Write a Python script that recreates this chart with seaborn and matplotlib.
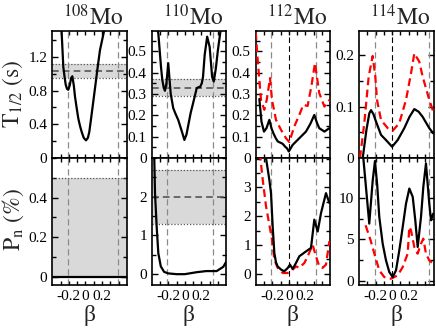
import numpy as np
import pandas as pd
import seaborn as sns
from matplotlib import pyplot as plt
from matplotlib.ticker import FixedLocator, MultipleLocator, FuncFormatter

# nuclei shown in the four columns
nuclei = ["108", "110", "112", "114"]

# half-lives T1/2 (s) vs beta, black = full calc, red dashed = second calc
beta_t108 = [-0.29, -0.267, -0.25, -0.238, -0.222, -0.207, -0.19, -0.172, -0.158, -0.14, -0.126, -0.105, -0.086,
             -0.065, -0.045, -0.02, 0.007, 0.03, 0.047, 0.07, 0.095, 0.12, 0.143, 0.176, 0.224, 0.235]
t108 = [1.55, 1.08, 0.95, 0.87, 0.82, 0.81, 0.86, 0.95, 0.97, 0.86, 0.73, 0.59, 0.47,
        0.38, 0.31, 0.24, 0.21, 0.24, 0.31, 0.48, 0.67, 0.86, 1.04, 1.28, 1.5, 1.6]

beta_t110 = [-0.345, -0.32, -0.288, -0.272, -0.255, -0.24, -0.222, -0.2, -0.185, -0.17, -0.14, -0.11, -0.08,
             -0.04, -0.005, 0.02, 0.043, 0.07, 0.10, 0.144, 0.165, 0.183, 0.205, 0.22, 0.24, 0.27, 0.30, 0.33,
             0.35, 0.375, 0.40, 0.44]
t110 = [0.62, 0.584, 0.428, 0.366, 0.33, 0.315, 0.35, 0.444, 0.37, 0.30, 0.234, 0.205, 0.179,
        0.13, 0.085, 0.11, 0.156, 0.21, 0.257, 0.327, 0.332, 0.332, 0.35, 0.38, 0.483, 0.568, 0.52, 0.38,
        0.358, 0.42, 0.506, 0.62]

beta_t112 = [-0.356, -0.33, -0.30, -0.27, -0.235, -0.21, -0.187, -0.16, -0.134, -0.074, -0.046, -0.02, 0.0,
             0.047, 0.127, 0.207, 0.26, 0.308, 0.34, 0.368, 0.43, 0.49]
t112 = [0.276, 0.17, 0.124, 0.14, 0.179, 0.14, 0.117, 0.095, 0.078, 0.067, 0.054, 0.045, 0.031,
        0.062, 0.093, 0.124, 0.16, 0.202, 0.165, 0.14, 0.124, 0.14]
beta_t112r = [-0.4, -0.376, -0.336, -0.296, -0.267, -0.227, -0.203, -0.155, -0.094, -0.034, 0.006, 0.066,
              0.127, 0.175, 0.227, 0.27, 0.316, 0.368, 0.43, 0.49]
t112r = [0.589, 0.46, 0.272, 0.226, 0.272, 0.374, 0.272, 0.179, 0.132, 0.093, 0.075, 0.148,
         0.202, 0.249, 0.244, 0.33, 0.444, 0.304, 0.241, 0.272]

beta_t114 = [-0.355, -0.31, -0.275, -0.255, -0.225, -0.195, -0.134, -0.074, 0.0, 0.067, 0.147, 0.21, 0.268,
             0.32, 0.369, 0.449, 0.497]
t114 = [0.0, 0.055, 0.087, 0.093, 0.085, 0.071, 0.045, 0.035, 0.022, 0.035, 0.058, 0.08, 0.095,
        0.09, 0.080, 0.058, 0.048]
beta_t114r = [-0.388, -0.336, -0.283, -0.235, -0.203, -0.183, -0.134, -0.053, 0.007, 0.087, 0.168, 0.228,
              0.268, 0.328, 0.369, 0.449, 0.497]
t114r = [0.0, 0.068, 0.158, 0.198, 0.158, 0.113, 0.074, 0.058, 0.053, 0.068, 0.113, 0.164,
         0.203, 0.187, 0.158, 0.113, 0.09]

# neutron emission probability Pn (%) vs beta
beta_p108 = [-0.4, 0.5]
p108 = [0.0, 0.0]

beta_p110 = [-0.37, -0.36, -0.34, -0.32, -0.29, -0.25, -0.2, -0.1, 0.0, 0.14, 0.26, 0.385, 0.465, 0.5]
p110 = [3.1, 2.09, 1.23, 0.54, 0.2, 0.06, 0.02, 0.0, 0.0, 0.05, 0.08, 0.08, 0.19, 0.32]

beta_p112 = [-0.28, -0.235, -0.215, -0.195, -0.175, -0.155, -0.135, -0.094, -0.055, -0.014, 0.014, 0.047,
             0.087, 0.127, 0.208, 0.268, 0.308, 0.349, 0.389, 0.449, 0.49]
p112 = [4.1, 3.26, 2.8, 1.65, 0.73, 0.4, 0.26, 0.15, 0.09, 0.2, 0.32, 0.17,
        0.38, 0.61, 0.78, 0.9, 1.88, 1.47, 2.11, 2.8, 2.46]
beta_p112r = [-0.35, -0.315, -0.275, -0.235, -0.203, -0.175, -0.135, -0.074, -0.014, 0.026, 0.087, 0.127,
              0.188, 0.228, 0.288, 0.328, 0.368, 0.409, 0.449, 0.49]
p112r = [4.2, 3.26, 2.34, 1.7, 1.19, 0.5, 0.21, 0.03, 0.03, 0.09, 0.26, 0.21,
         0.38, 0.61, 1.01, 0.61, 0.26, 0.21, 0.32, 1.13]

beta_p114 = [-0.35, -0.276, -0.235, -0.207, -0.18, -0.155, -0.114, -0.074, -0.034, 0.007, 0.047, 0.087,
             0.128, 0.168, 0.208, 0.249, 0.28, 0.309, 0.349, 0.377, 0.409, 0.449, 0.47, 0.497]
p114 = [15.0, 6.9, 12.0, 14.4, 11.5, 7.7, 4.5, 2.5, 1.1, 0.5, 1.3, 3.7,
        6.5, 9.3, 11.1, 10.1, 7.3, 4.1, 7.7, 11.3, 14.1, 9.3, 7.3, 8.1]
beta_p114r = [-0.32, -0.26, -0.203, -0.155, -0.095, -0.014, 0.067, 0.128, 0.188, 0.208, 0.228, 0.268,
              0.308, 0.349, 0.377, 0.409, 0.449, 0.497]
p114r = [6.7, 4.9, 2.9, 1.3, 0.5, 0.3, 0.7, 1.7, 3.3, 6.5, 6.1, 4.1,
         3.3, 4.5, 5.1, 3.3, 2.5, 2.1]

# experimental values (centre, low, high); None = no data
t_exp = [(1.03, 0.95, 1.11), (0.33, 0.29, 0.37), None, None]
p_exp = [(None, 0.0, 0.5), (2.0, 1.3, 2.7), None, None]

# equilibrium deformations (oblate, prolate)
beta_eq = [(-0.21, 0.39), (-0.21, 0.335), (-0.215, 0.33), (-0.207, 0.45)]
show_zero = [False, False, True, True]

t_ylim = [(0, 1.51), (0, 0.596), (0, 0.596), (0, 0.247)]
t_major = [[0, 0.4, 0.8, 1.2], [0, 0.1, 0.2, 0.3, 0.4, 0.5], [0, 0.1, 0.2, 0.3, 0.4, 0.5], [0, 0.1, 0.2]]
t_minor = [0.2, 0.05, 0.05, 0.05]
p_ylim = [(-0.045, 0.6), (-0.29, 3.0), (-0.4, 4.02), (-0.5, 14.76)]
p_major = [[0, 0.2, 0.4], [0, 1, 2], [0, 1, 2, 3], [0, 5, 10]]
p_minor = [0.1, 0.5, 0.5, 2.5]

t_black = [(beta_t108, t108), (beta_t110, t110), (beta_t112, t112), (beta_t114, t114)]
t_red = [None, None, (beta_t112r, t112r), (beta_t114r, t114r)]
p_black = [(beta_p108, p108), (beta_p110, p110), (beta_p112, p112), (beta_p114, p114)]
p_red = [None, None, (beta_p112r, p112r), (beta_p114r, p114r)]

sns.set_theme(style="ticks")
plt.rcParams["font.family"] = ["Liberation Serif", "DejaVu Serif"]
plt.rcParams["mathtext.fontset"] = "stix"
plt.rcParams["axes.unicode_minus"] = False

W, H = 436, 328
fig = plt.figure(figsize=(W / 100, H / 100), dpi=100)
col_left = [52.3, 151.7, 255.7, 359.0]
col_w = 74.5
row_top = [30.7, 158.0]
row_h = 127.4

fmt = FuncFormatter(lambda v, _: f"{v:g}")
band_col = "#d9d9d9"
edge_col = "#555555"
vline_col = "#8a8a8a"


def style_axis(ax, ylim, major, minor, xlabels):
    ax.set_xlim(-0.4, 0.5)
    ax.set_ylim(*ylim)
    ax.xaxis.set_major_locator(FixedLocator([-0.2, 0.0, 0.2]))
    ax.xaxis.set_minor_locator(FixedLocator([-0.3, -0.1, 0.1, 0.3, 0.4]))
    ax.yaxis.set_major_locator(FixedLocator(major))
    ax.yaxis.set_minor_locator(MultipleLocator(minor))
    ax.xaxis.set_major_formatter(fmt)
    ax.yaxis.set_major_formatter(fmt)
    ax.tick_params(which="both", direction="in", top=True, right=True, color="black", width=1.0,
                   labelsize=11, pad=3.5, labelcolor="black")
    ax.tick_params(axis="x", which="both", length=3.0)
    ax.tick_params(axis="y", which="major", length=4.5)
    ax.tick_params(axis="y", which="minor", length=3.0)
    if not xlabels:
        ax.tick_params(axis="x", labelbottom=False)
    for sp in ax.spines.values():
        sp.set_color("black")
        sp.set_linewidth(1.2)
    ax.set_xlabel("")
    ax.set_ylabel("")
    ax.grid(False)


def draw_band(ax, exp):
    if exp is None:
        return
    mid, lo, hi = exp
    ax.axhspan(lo, hi, color=band_col, lw=0, zorder=0)
    ax.axhline(hi, color=edge_col, lw=0.9, ls=(0, (1, 1.5)), zorder=1)
    if lo > 0:
        ax.axhline(lo, color=edge_col, lw=0.9, ls=(0, (1, 1.5)), zorder=1)
    if mid is not None:
        ax.axhline(mid, color=edge_col, lw=1.2, ls=(0, (4, 2.5)), zorder=1)


for i in range(4):
    for r in range(2):
        bottom = (H - row_top[r] - row_h) / H
        ax = fig.add_axes([col_left[i] / W, bottom, col_w / W, row_h / H])
        if r == 0:
            exp, black, red = t_exp[i], t_black[i], t_red[i]
        else:
            exp, black, red = p_exp[i], p_black[i], p_red[i]
        draw_band(ax, exp)
        for b in beta_eq[i]:
            ax.axvline(b, color=vline_col, lw=0.9, ls=(0, (5, 3)), zorder=2)
        if show_zero[i]:
            ax.axvline(0.0, color="black", lw=0.8, ls=(0, (5, 3)), zorder=2)
        if red is not None:
            sns.lineplot(x=red[0], y=red[1], ax=ax, color="red", lw=1.6, linestyle=(0, (3.5, 2)),
                         zorder=3, estimator=None)
        sns.lineplot(x=black[0], y=black[1], ax=ax, color="black", lw=1.6, zorder=4, estimator=None)
        if r == 0:
            style_axis(ax, t_ylim[i], t_major[i], t_minor[i], False)
            ax.set_title(r"$^{" + nuclei[i] + r"}\mathrm{Mo}$", fontsize=17, x=0.55, pad=4)
        else:
            style_axis(ax, p_ylim[i], p_major[i], p_minor[i], True)
            ax.set_xlabel("β", fontsize=17, labelpad=1)

fig.text(13 / W, 1 - 94 / H, r"$\mathrm{T_{1/2}\ (s)}$", rotation=90, fontsize=17, ha="center", va="center")
fig.text(13 / W, 1 - 220 / H, r"$\mathrm{P_{n}\ (\%)}$", rotation=90, fontsize=17, ha="center", va="center")

plt.savefig("out.png", dpi=100)
plt.close()
